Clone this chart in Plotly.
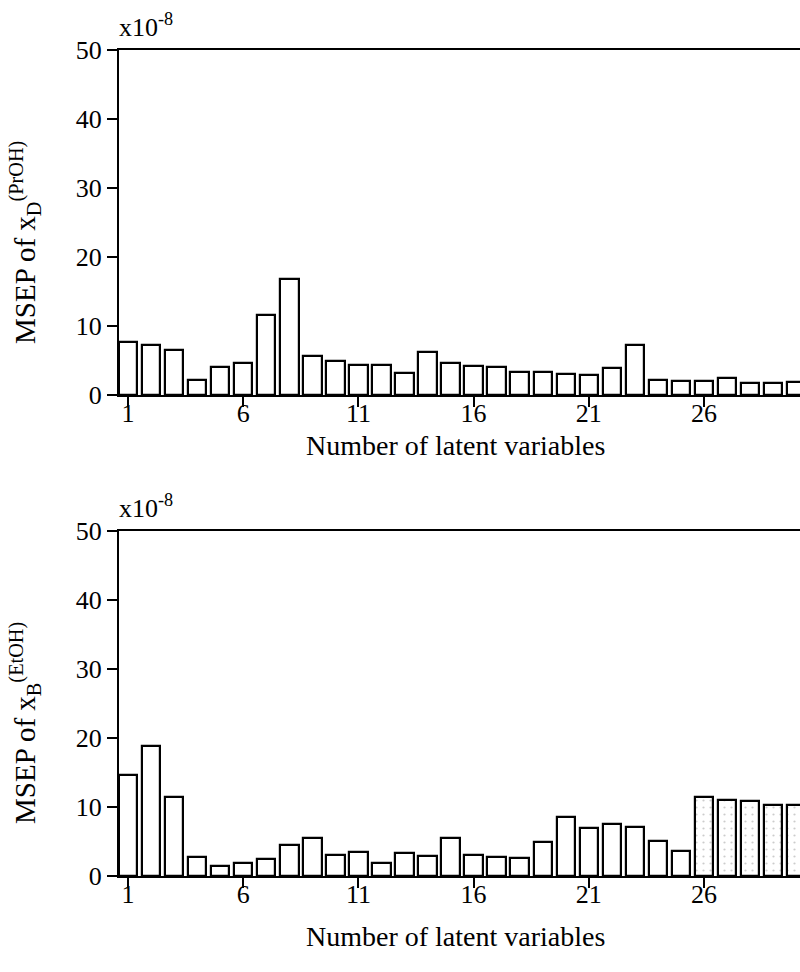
import plotly.graph_objects as go

# ---- data ----
latent_vars = list(range(1, 31))
msep_proh = [7.7, 7.3, 6.5, 2.2, 4.0, 4.6, 11.6, 16.8, 5.6, 4.9,
             4.3, 4.3, 3.2, 6.2, 4.6, 4.2, 4.0, 3.3, 3.4, 3.1,
             2.9, 3.9, 7.2, 2.2, 2.1, 2.1, 2.5, 1.8, 1.8, 1.9]
msep_etoh = [14.6, 18.9, 11.5, 2.7, 1.5, 1.9, 2.5, 4.5, 5.5, 3.1,
             3.5, 1.9, 3.3, 2.9, 5.5, 3.0, 2.7, 2.6, 5.0, 8.6,
             7.0, 7.6, 7.1, 5.1, 3.6, 11.4, 11.0, 10.8, 10.3, 10.3]
x_ticks = [1, 6, 11, 16, 21, 26]
y_ticks = [0, 10, 20, 30, 40, 50]
x_title = "Number of latent variables"
y_title_top = "MSEP of x<sub>D</sub><sup>(PrOH)</sup>"
y_title_bottom = "MSEP of x<sub>B</sub><sup>(EtOH)</sup>"
scale_label = "x10<sup>-8</sup>"

W, H = 800, 972
FONT = "Liberation Serif"
FS = 26

def px_x(p):
    return p / W

def px_y(p):
    return 1 - p / H

fig = go.Figure()

stipple_bottom = ["." if v >= 26 else "" for v in latent_vars]

fig.add_trace(go.Bar(
    x=latent_vars, y=msep_proh, xaxis="x", yaxis="y", width=0.8,
    marker=dict(color="white", line=dict(color="black", width=2.2)),
    showlegend=False,
))
fig.add_trace(go.Bar(
    x=latent_vars, y=msep_etoh, xaxis="x2", yaxis="y2", width=0.8,
    marker=dict(color="white", line=dict(color="black", width=2.2),
                pattern=dict(shape=stipple_bottom, fgcolor="#999999",
                             bgcolor="white", size=7, solidity=0.08)),
    showlegend=False,
))

x_dom = [px_x(119), 1.0]
xr = [1 - 9 / 23.04, 1 + (800 - 128) / 23.04]

common_x = dict(
    range=xr, tickmode="array", tickvals=x_ticks, ticks="outside",
    ticklen=10, tickwidth=2, tickcolor="black", showline=True,
    linecolor="black", linewidth=2, mirror=True, showgrid=False,
    zeroline=False, tickfont=dict(family=FONT, size=FS, color="black"),
    ticklabelstandoff=-16,
    automargin=False, fixedrange=True,
)
common_y = dict(
    range=[0, 50], tickmode="array", tickvals=y_ticks, ticks="outside",
    ticklen=10, tickwidth=2, tickcolor="black", showline=True,
    linecolor="black", linewidth=2, showgrid=False, zeroline=False,
    tickfont=dict(family=FONT, size=FS, color="black"),
    automargin=False, fixedrange=True,
)

fig.update_layout(
    width=W, height=H,
    margin=dict(l=0, r=0, t=0, b=0),
    paper_bgcolor="white", plot_bgcolor="white",
    font=dict(family=FONT, size=FS, color="black"),
    xaxis=dict(common_x, domain=x_dom, anchor="y"),
    yaxis=dict(common_y, domain=[px_y(395), px_y(50)], anchor="x"),
    xaxis2=dict(common_x, domain=x_dom, anchor="y2"),
    yaxis2=dict(common_y, domain=[px_y(876), px_y(531)], anchor="x2"),
    bargap=0,
)

ann = []
for y_center, ytxt in [(243, y_title_top), (723, y_title_bottom)]:
    ann.append(dict(text=ytxt, x=px_x(25), y=px_y(y_center), xref="paper",
                    yref="paper", textangle=-90, showarrow=False,
                    xanchor="center", yanchor="middle",
                    font=dict(family=FONT, size=29, color="black")))
for y_center in [446, 936]:
    ann.append(dict(text=x_title, x=px_x(455), y=px_y(y_center), xref="paper",
                    yref="paper", showarrow=False, xanchor="center",
                    yanchor="middle",
                    font=dict(family=FONT, size=28, color="black")))
for y_base in [44, 525]:
    ann.append(dict(text=scale_label, x=px_x(117), y=px_y(y_base), xref="paper",
                    yref="paper", showarrow=False, xanchor="left",
                    yanchor="bottom",
                    font=dict(family=FONT, size=FS, color="black")))
fig.update_layout(annotations=ann)

fig.write_html("out.html")
